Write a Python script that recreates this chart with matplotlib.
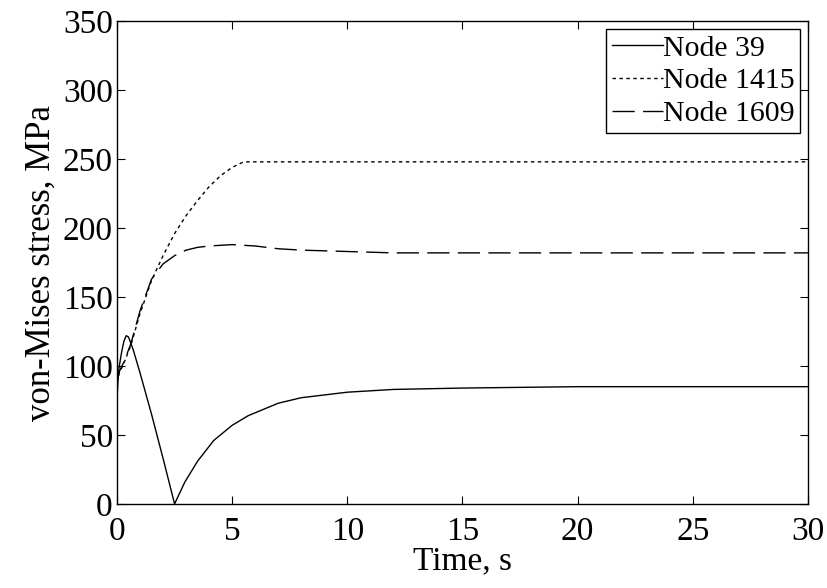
import matplotlib
matplotlib.use("Agg")
import matplotlib.pyplot as plt

# Node 39 (solid)
t_39 = [0.0, 0.05, 0.1, 0.2, 0.3, 0.4, 0.5, 0.7, 1.0, 1.5, 2.0, 2.5,
        2.95, 3.5, 4.2, 5.0, 5.7, 7.0, 8.0, 10.0, 12.0, 15.0, 20.0, 25.0, 30.0]
s_39 = [75, 92, 100, 110, 118, 122, 121, 112, 95, 65, 33, 0,
        16, 31, 46, 57, 64, 73, 77, 81, 83, 84, 85, 85, 85]

# Node 1415 (dotted)
t_1415 = [0.0, 0.1, 0.3, 0.6, 1.0, 1.5, 2.0, 2.5, 3.0, 3.5, 4.0, 4.5,
          5.0, 5.5, 5.8, 30.0]
s_1415 = [88, 95, 102, 115, 138, 162, 180, 196, 209, 220, 230, 238,
          244, 248, 248, 248]

# Node 1609 (dashed)
t_1609 = [0.0, 0.1, 0.3, 0.6, 1.0, 1.5, 2.0, 2.5, 3.0, 3.5, 4.0, 5.0,
          6.0, 7.0, 8.0, 10.0, 12.0, 30.0]
s_1609 = [88, 96, 103, 116, 140, 163, 174, 180, 184, 186, 187, 188,
          187, 185, 184, 183, 182, 182]

plt.rcParams["font.family"] = ["Liberation Serif", "DejaVu Serif"]
plt.rcParams["font.size"] = 22

fig = plt.figure(figsize=(8.28, 5.88), dpi=100)
ax = fig.add_axes([0.1413, 0.143, 0.8345, 0.821])

ax.plot(t_39, s_39, color="k", lw=1.0, label="Node 39")
ax.plot(t_1415, s_1415, color="k", lw=1.0, ls=(0, (2.5, 2.5)),
        label="Node 1415")
ax.plot(t_1609, s_1609, color="k", lw=1.0, ls=(0, (16, 6)),
        label="Node 1609")

ax.set_xlim(0, 30)
ax.set_ylim(0, 350)
ax.set_xticks(range(0, 31, 5))
ax.set_yticks(range(0, 351, 50))
ax.tick_params(direction="in", top=True, right=True, length=6,
               labelsize=24)
ax.tick_params(axis="x", pad=9)
ax.tick_params(axis="y", pad=3)
for sp in ax.spines.values():
    sp.set_linewidth(1.0)

ax.set_xlabel("Time, s", fontsize=24, labelpad=-1)
ax.set_ylabel("von-Mises stress, MPa", fontsize=25, labelpad=4)

leg = ax.legend(loc="upper right", fontsize=21.5, handlelength=1.7,
                handletextpad=0.0, borderpad=0.2, labelspacing=0.2,
                fancybox=False, framealpha=1, edgecolor="k",
                borderaxespad=0.25)
leg.get_frame().set_linewidth(1.0)

fig.savefig("out.png", dpi=100)
